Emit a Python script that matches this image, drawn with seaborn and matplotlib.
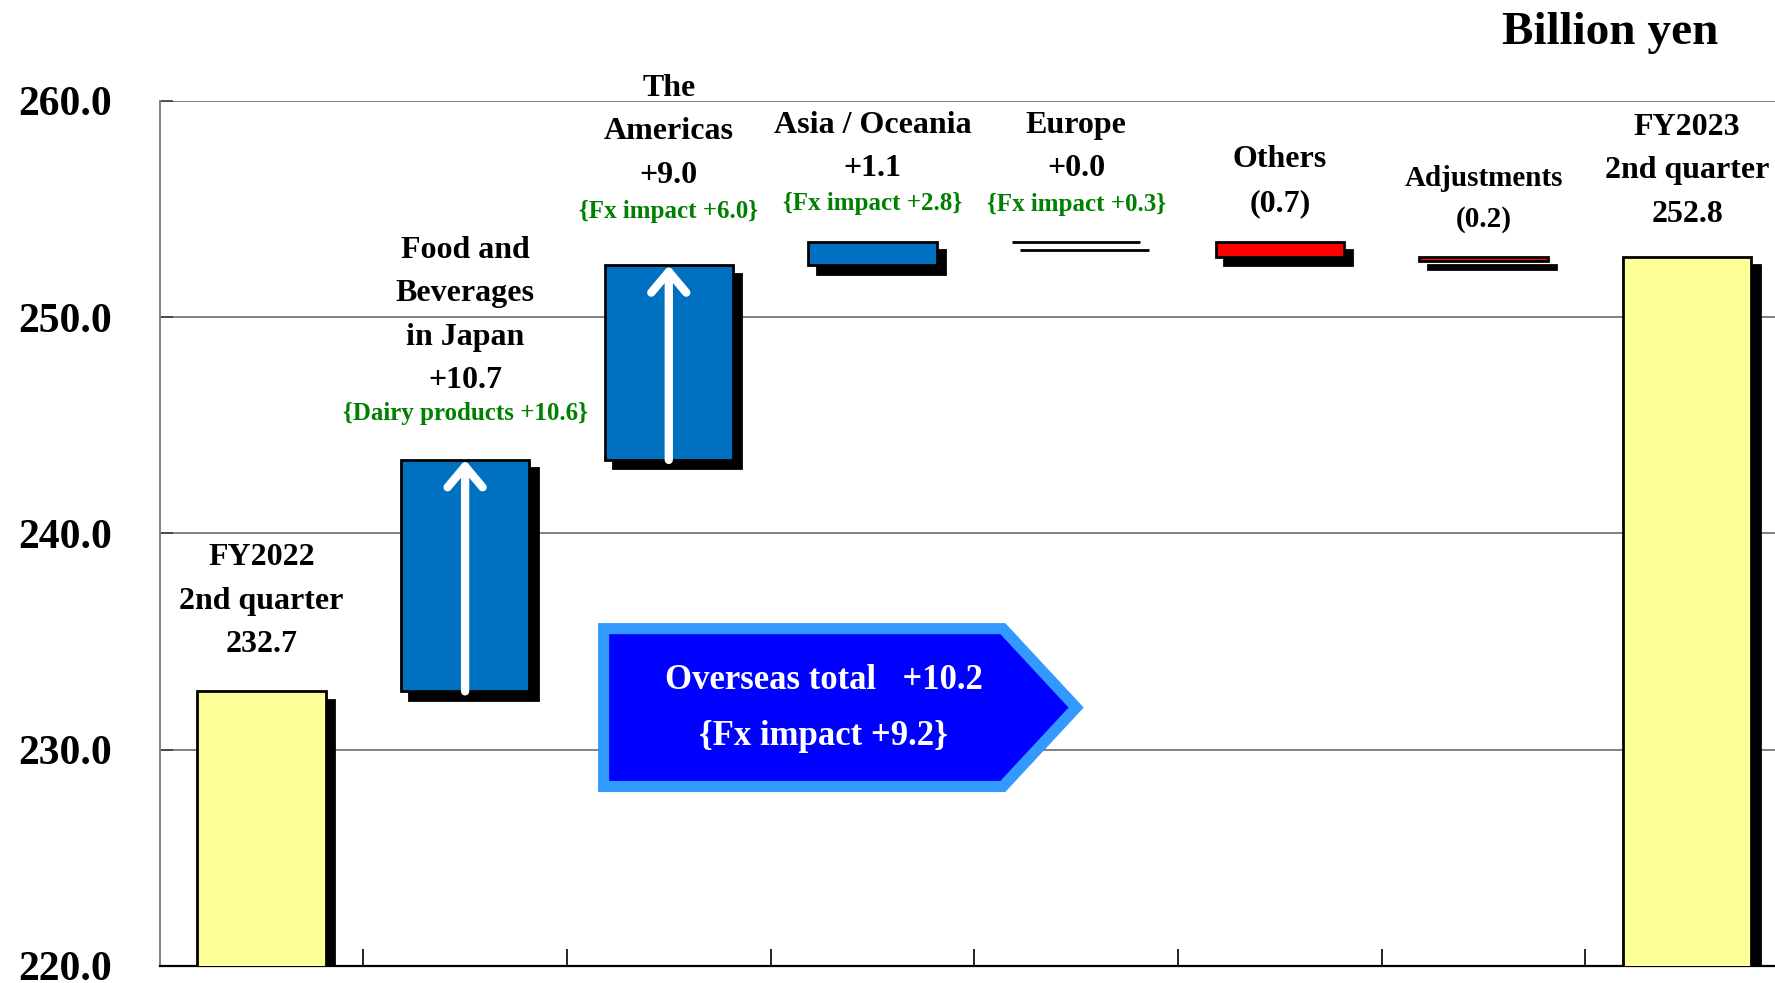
import matplotlib
matplotlib.use("Agg")
import matplotlib.pyplot as plt
import matplotlib.patheffects as pe
from matplotlib.patches import Polygon
import pandas as pd
import seaborn as sns

sns.set_style("white")
plt.rcParams["font.family"] = ["Liberation Serif", "DejaVu Serif"]
plt.rcParams["font.weight"] = "bold"
plt.rcParams["text.color"] = "black"
plt.rcParams["ytick.color"] = "black"

# data (billion yen)
items = ["FY2022 2Q", "Food and Beverages in Japan", "The Americas", "Asia / Oceania",
         "Europe", "Others", "Adjustments", "FY2023 2Q"]
start_value = 232.7
step_values = [10.7, 9.0, 1.1, 0.0, -0.7, -0.2]
end_value = 252.8
bar_labels = ["FY2022\n2nd quarter\n232.7", "Food and\nBeverages\nin Japan\n+10.7",
              "The\nAmericas\n+9.0", "Asia / Oceania\n+1.1", "Europe\n+0.0",
              "Others\n(0.7)", "Adjustments\n(0.2)", "FY2023\n2nd quarter\n252.8"]
notes = ["", "{Dairy products +10.6}", "{Fx impact +6.0}", "{Fx impact +2.8}",
         "{Fx impact +0.3}", "", "", ""]
overseas_total = 10.2
overseas_fx = 9.2
yticks = [220.0, 230.0, 240.0, 250.0, 260.0]

# waterfall geometry
bottoms, heights, colors, tops = [0.0], [start_value], ["#FFFF99"], [start_value]
cum = start_value
for v in step_values:
    bottoms.append(cum + min(v, 0))
    heights.append(abs(v))
    colors.append("#0070C0" if v >= 0 else "#FF0000")
    cum += v
    tops.append(max(cum, cum - v))
bottoms.append(0.0)
heights.append(end_value)
colors.append("#FFFF99")
tops.append(end_value)

df = pd.DataFrame({"item": items, "height": heights})

fig = plt.figure(figsize=(17.75, 9.83), dpi=100)
ax = fig.add_axes([0.0899, 0.0173, 0.918, 0.880])

sns.barplot(data=df, x="item", y="height", order=items, bottom=bottoms,
            color="#0070C0", saturation=1, facecolor=colors, edgecolor="black",
            linewidth=2, width=0.63, errorbar=None, ax=ax, zorder=3)

shadow = [pe.SimplePatchShadow(offset=(6, -6), shadow_rgbFace="black", alpha=1),
          pe.SimpleLineShadow(offset=(6, -6), shadow_color="black", alpha=1),
          pe.Normal()]
for p in ax.patches:
    p.set_path_effects(shadow)

ax.set_xlim(-0.5, 7.5)
ax.set_ylim(220, 260)
ax.set_xlabel("")
ax.set_ylabel("")
ax.set_xticks([i + 0.5 for i in range(7)])
ax.set_xticklabels([])
ax.tick_params(axis="x", bottom=True, direction="in", length=12, width=1.2, color="black")
ax.set_yticks(yticks)
ax.set_yticklabels([f"{t:.1f}" for t in yticks], fontsize=30, fontweight="bold", color="black")
ax.tick_params(axis="y", left=True, direction="in", length=9, width=1.2,
               color="#404040", labelcolor="black", pad=34)
ax.grid(axis="y", color="#808080", linewidth=1.4)
ax.set_axisbelow(True)
for s in ["top", "right"]:
    ax.spines[s].set_visible(False)
ax.spines["left"].set_color("#808080")
ax.spines["left"].set_linewidth(1.4)
ax.spines["bottom"].set_color("black")
ax.spines["bottom"].set_linewidth(1.6)

# white arrows inside the two big increases
for i in (1, 2):
    ax.annotate("", xy=(i, bottoms[i] + heights[i]), xytext=(i, bottoms[i]),
                arrowprops=dict(arrowstyle="->, head_length=0.5, head_width=0.42",
                                color="white", lw=6, mutation_scale=30,
                                shrinkA=0, shrinkB=0), zorder=5)

# labels above bars
label_pads = [1.5, 3.0, 3.5, 2.7, 2.7, 1.1, 1.1, 1.3]
note_pads = [0, 2.15, 2.5, 1.74, 1.7, 0, 0, 0]
for i, lab in enumerate(bar_labels):
    fs = 21 if i == 6 else 23
    ax.text(i, tops[i] + label_pads[i], lab, ha="center", va="bottom",
            fontsize=fs, fontweight="bold", linespacing=1.65, color="black")
    if notes[i]:
        ax.text(i, tops[i] + note_pads[i], notes[i], ha="center", va="center",
                fontsize=18, fontweight="bold", color="#008000")

# overseas total callout
callout = Polygon([(1.68, 235.6), (3.64, 235.6), (4.0, 231.95), (3.64, 228.3), (1.68, 228.3)],
                  closed=True, facecolor="#0000FF", edgecolor="#3399FF", linewidth=8,
                  joinstyle="miter", zorder=6)
ax.add_patch(callout)
ax.text(2.76, 233.2, f"Overseas total   +{overseas_total:.1f}", ha="center", va="center",
        fontsize=25, fontweight="bold", color="white", zorder=7)
ax.text(2.76, 230.6, f"{{Fx impact +{overseas_fx:.1f}}}", ha="center", va="center",
        fontsize=25, fontweight="bold", color="white", zorder=7)

fig.text(0.907, 0.966, "Billion yen", ha="center", va="center", fontsize=34, fontweight="bold")

fig.savefig("out.png", dpi=100)
